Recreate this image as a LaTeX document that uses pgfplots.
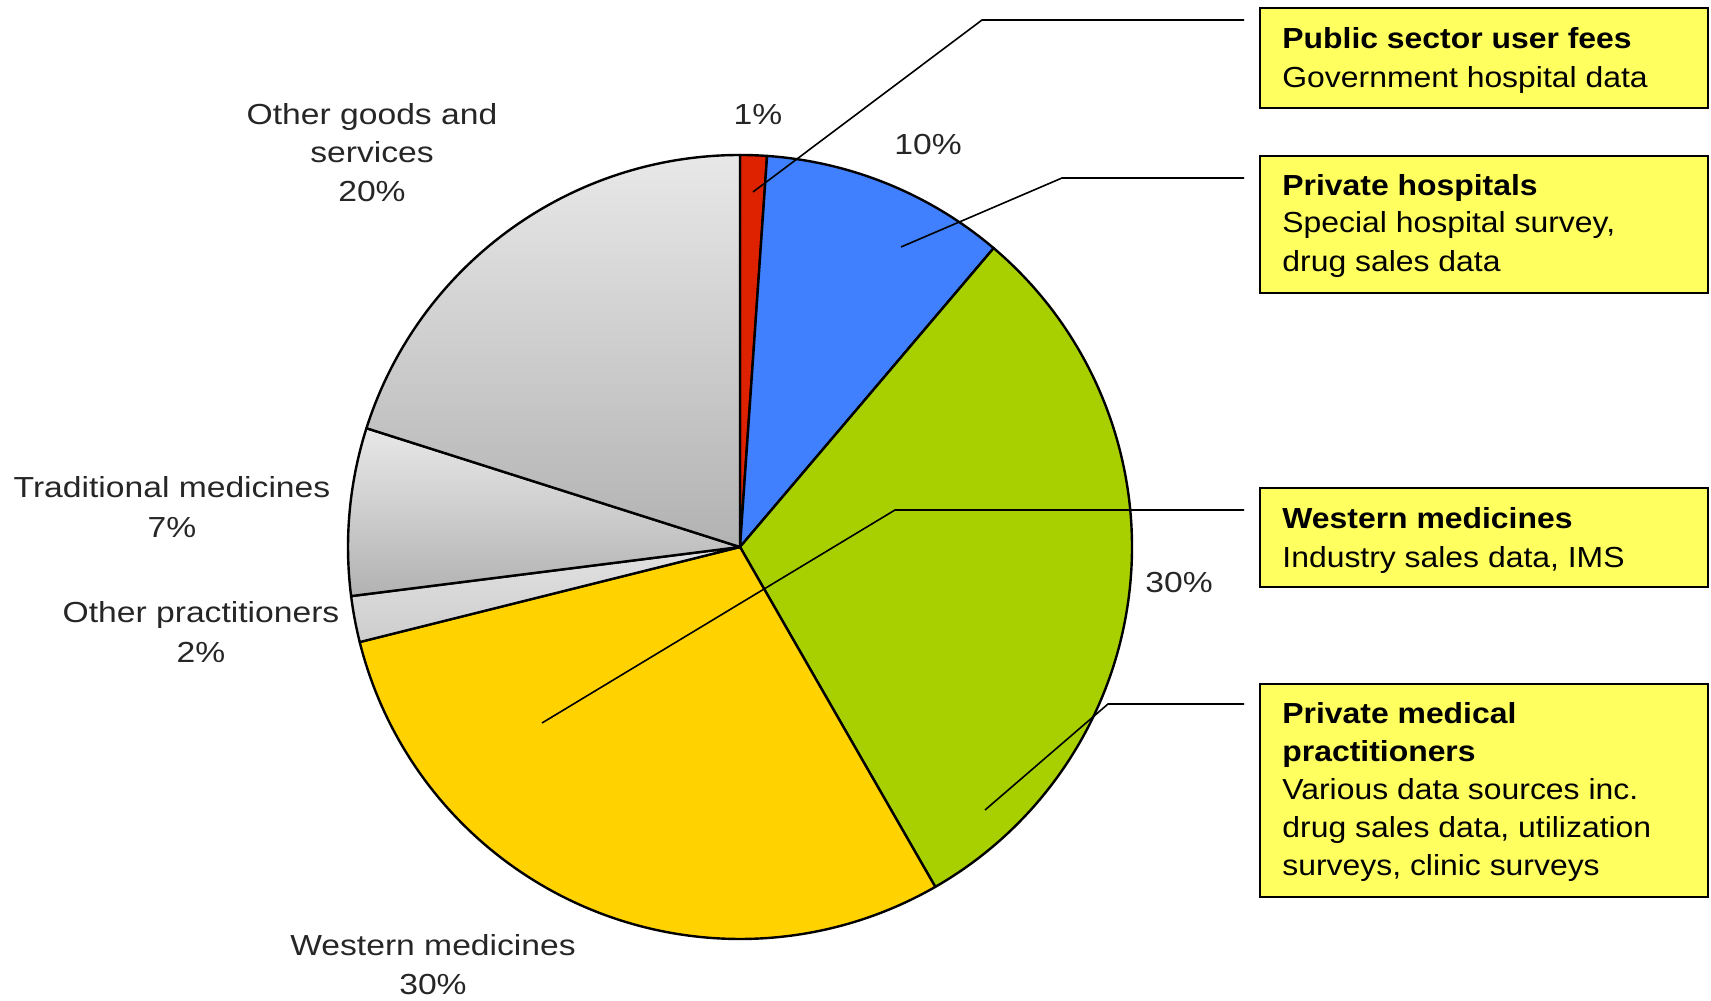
\documentclass[border=0pt]{standalone}
\usepackage{pgfplots}
\pgfplotsset{compat=1.18}
\usepackage{fontspec}
\setmainfont{Liberation Sans}
\newfontfamily\boxfont[FakeStretch=1.10]{Liberation Sans}
\newfontfamily\piefont[FakeStretch=1.16]{Liberation Sans}
\definecolor{pubred}{RGB}{222,34,0}
\definecolor{privblue}{RGB}{64,128,255}
\definecolor{pmpgreen}{RGB}{168,208,0}
\definecolor{westyellow}{RGB}{255,210,0}
\definecolor{boxyellow}{RGB}{255,255,96}
\definecolor{glight}{RGB}{232,232,232}
\definecolor{gdark}{RGB}{178,178,178}
\definecolor{gpl}{RGB}{226,226,226}
\definecolor{gpd}{RGB}{205,205,205}
\newcommand\lbl{\fontsize{14.5}{19.5}\selectfont}
\begin{document}
\begin{tikzpicture}
% shares (percent), clockwise from 12 o'clock
\def\sA{1.1}  % Public sector user fees
\def\sB{10.1} % Private hospitals
\def\sC{30.5} % Private medical practitioners
\def\sD{29.4} % Western medicines
\def\sE{1.9}  % Other practitioners
\def\sF{6.9}  % Traditional medicines
\def\sG{20.1} % Other goods and services
\pgfmathsetmacro\aA{90}
\pgfmathsetmacro\aB{\aA-3.6*\sA}
\pgfmathsetmacro\aC{\aB-3.6*\sB}
\pgfmathsetmacro\aD{\aC-3.6*\sC}
\pgfmathsetmacro\aE{\aD-3.6*\sD}
\pgfmathsetmacro\aF{\aE-3.6*\sE}
\pgfmathsetmacro\aG{\aF-3.6*\sF}
\pgfmathsetmacro\aH{\aG-3.6*\sG}
\begin{axis}[width=855.5pt,height=500pt,scale only axis,
  xmin=0,xmax=1711,ymin=0,ymax=1000,axis lines=none,clip=false]
\addplot[draw=none] coordinates {(0,0) (1711,1000)};
\newcommand\slice[3]{\path[#3,draw=black,line width=1.2pt,line join=round]
  (axis cs:740,453) -- ++(#1:196pt) arc[start angle=#1,end angle=#2,radius=196pt] -- cycle;}
\slice{\aA}{\aB}{fill=pubred}
\slice{\aB}{\aC}{fill=privblue}
\slice{\aC}{\aD}{fill=pmpgreen}
\slice{\aD}{\aE}{fill=westyellow}
\slice{\aE}{\aF}{top color=gpl,bottom color=gpd}
\slice{\aF}{\aG}{top color=glight,bottom color=gdark}
\slice{\aG}{\aH}{top color=glight,bottom color=gdark}
% leader lines
\draw[line width=0.8pt] (axis cs:753,808) -- (axis cs:982,980) -- (axis cs:1244,980);
\draw[line width=0.8pt] (axis cs:901,753) -- (axis cs:1062,822) -- (axis cs:1244,822);
\draw[line width=0.8pt] (axis cs:542,277) -- (axis cs:895,490) -- (axis cs:1244,490);
\draw[line width=0.8pt] (axis cs:985,190) -- (axis cs:1108,296) -- (axis cs:1244,296);
% boxes
\draw[fill=boxyellow,line width=1pt] (axis cs:1260,892) rectangle (axis cs:1708,992);
\draw[fill=boxyellow,line width=1pt] (axis cs:1260,707) rectangle (axis cs:1708,844);
\draw[fill=boxyellow,line width=1pt] (axis cs:1260,413) rectangle (axis cs:1708,512);
\draw[fill=boxyellow,line width=1pt] (axis cs:1260,103) rectangle (axis cs:1708,316);
\begin{scope}[every node/.style={anchor=base west,inner sep=0pt,font=\boxfont\lbl}]
\node at (axis cs:1282,951) {\textbf{Public sector user fees}};
\node at (axis cs:1282,912) {Government hospital data};
\node at (axis cs:1282,804) {\textbf{Private hospitals}};
\node at (axis cs:1282,767) {Special hospital survey,};
\node at (axis cs:1282,728) {drug sales data};
\node at (axis cs:1282,471) {\textbf{Western medicines}};
\node at (axis cs:1282,432) {Industry sales data, IMS};
\node at (axis cs:1282,276) {\textbf{Private medical}};
\node at (axis cs:1282,238) {\textbf{practitioners}};
\node at (axis cs:1282,200) {Various data sources inc.};
\node at (axis cs:1282,162) {drug sales data, utilization};
\node at (axis cs:1282,124) {surveys, clinic surveys};
\end{scope}
\begin{scope}[every node/.style={anchor=base,inner sep=0pt,font=\piefont\lbl,text=black!85}]
\node at (axis cs:372,875) {Other goods and};
\node at (axis cs:372,837) {services};
\node at (axis cs:372,798) {20\%};
\node at (axis cs:172,502) {Traditional medicines};
\node at (axis cs:172,462) {7\%};
\node at (axis cs:201,377) {Other practitioners};
\node at (axis cs:201,337) {2\%};
\node at (axis cs:433,45) {Western medicines};
\node at (axis cs:433,5) {30\%};
\node at (axis cs:758,875) {1\%};
\node at (axis cs:928,845) {10\%};
\node at (axis cs:1179,407) {30\%};
\end{scope}
\end{axis}
\pgfresetboundingbox
\useasboundingbox (0,0) rectangle (855.5pt,500pt);
\end{tikzpicture}
\end{document}
